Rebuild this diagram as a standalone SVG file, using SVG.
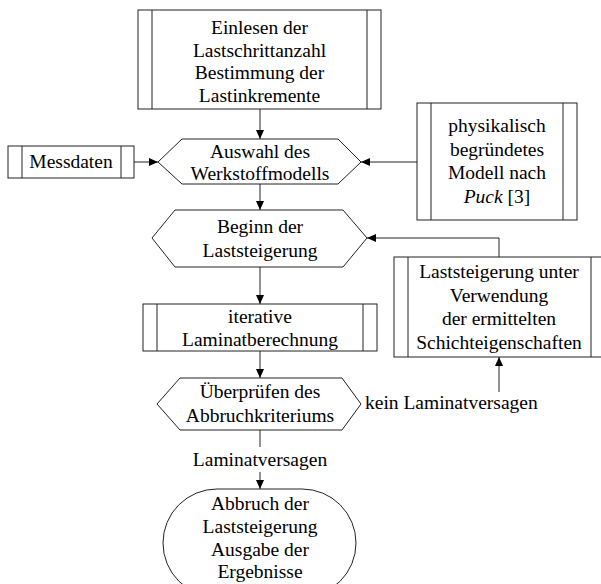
<svg xmlns="http://www.w3.org/2000/svg" width="601" height="584" viewBox="0 0 601 584">
<style>
.s{fill:#fff;stroke:#222;stroke-width:1}
.l{fill:none;stroke:#222;stroke-width:1}
text{font-family:"Liberation Serif","Times New Roman",serif;font-size:19.5px;fill:#000;text-anchor:middle}
.st{text-anchor:start}
</style>
<defs>
<marker id="a" markerUnits="userSpaceOnUse" markerWidth="9" markerHeight="8" refX="9" refY="4" orient="auto">
<path d="M0,0 L9,4 L0,8 z" fill="#000"/>
</marker>
</defs>
<rect width="601" height="584" fill="#fff"/>
<g id="connectors">
<line class="l" x1="260" y1="109" x2="260" y2="139" marker-end="url(#a)"/>
<line class="l" x1="134" y1="162" x2="158" y2="162" marker-end="url(#a)"/>
<line class="l" x1="417" y1="162" x2="361" y2="162" marker-end="url(#a)"/>
<line class="l" x1="260" y1="184" x2="260" y2="210" marker-end="url(#a)"/>
<polyline class="l" points="499,257 499,238 367,238" marker-end="url(#a)"/>
<line class="l" x1="260" y1="267" x2="260" y2="304" marker-end="url(#a)"/>
<line class="l" x1="260" y1="351" x2="260" y2="378" marker-end="url(#a)"/>
<line class="l" x1="499" y1="392" x2="499" y2="357" marker-end="url(#a)"/>
<line class="l" x1="260" y1="430" x2="260" y2="447"/>
<line class="l" x1="260" y1="472" x2="260" y2="489" marker-end="url(#a)"/>
<text class="st" x="365" y="409">kein Laminatversagen</text>
<text x="260" y="466">Laminatversagen</text>
</g>
<g id="n-einlesen">
<rect class="s" x="138" y="10" width="243" height="99"/>
<line class="l" x1="152" y1="10" x2="152" y2="109"/>
<line class="l" x1="367" y1="10" x2="367" y2="109"/>
<text x="259.5" y="34">Einlesen der</text>
<text x="259.5" y="56.7">Lastschrittanzahl</text>
<text x="259.5" y="79.4">Bestimmung der</text>
<text x="259.5" y="102">Lastinkremente</text>
</g>
<g id="n-messdaten">
<rect class="s" x="8" y="146" width="126" height="32"/>
<line class="l" x1="22" y1="146" x2="22" y2="178"/>
<line class="l" x1="121" y1="146" x2="121" y2="178"/>
<text x="71" y="168">Messdaten</text>
</g>
<g id="n-auswahl">
<polygon class="s" points="158,162 182,139 338,139 361,162 338,184 182,184"/>
<text x="260" y="158">Auswahl des</text>
<text x="260" y="180">Werkstoffmodells</text>
</g>
<g id="n-puck">
<rect class="s" x="417" y="103" width="160" height="117"/>
<line class="l" x1="431" y1="103" x2="431" y2="220"/>
<line class="l" x1="563" y1="103" x2="563" y2="220"/>
<text x="497" y="132">physikalisch</text>
<text x="497" y="155.5">begründetes</text>
<text x="497" y="179">Modell nach</text>
<text x="497" y="202.5"><tspan font-style="italic">Puck</tspan> [3]</text>
</g>
<g id="n-beginn">
<polygon class="s" points="152,238 175,210 343,210 367,238 343,267 175,267"/>
<text x="260" y="233">Beginn der</text>
<text x="260" y="257">Laststeigerung</text>
</g>
<g id="n-laststeigerung">
<rect class="s" x="394" y="257" width="211" height="100"/>
<line class="l" x1="408" y1="257" x2="408" y2="357"/>
<line class="l" x1="591" y1="257" x2="591" y2="357"/>
<text x="499" y="278">Laststeigerung unter</text>
<text x="499" y="301.5">Verwendung</text>
<text x="499" y="325">der ermittelten</text>
<text x="499" y="348.5">Schichteigenschaften</text>
</g>
<g id="n-iterativ">
<rect class="s" x="143" y="304" width="234" height="47"/>
<line class="l" x1="157" y1="304" x2="157" y2="351"/>
<line class="l" x1="363" y1="304" x2="363" y2="351"/>
<text x="260" y="323">iterative</text>
<text x="260" y="346">Laminatberechnung</text>
</g>
<g id="n-pruefen">
<polygon class="s" points="157,404 180,378 342,378 361,404 342,430 180,430"/>
<text x="260" y="398">Überprüfen des</text>
<text x="260" y="422">Abbruchkriteriums</text>
</g>
<g id="n-abbruch">
<rect class="s" x="163" y="489" width="193" height="108" rx="54" ry="54"/>
<text x="260" y="510">Abbruch der</text>
<text x="260" y="533">Laststeigerung</text>
<text x="260" y="556">Ausgabe der</text>
<text x="260" y="578">Ergebnisse</text>
</g>
</svg>
